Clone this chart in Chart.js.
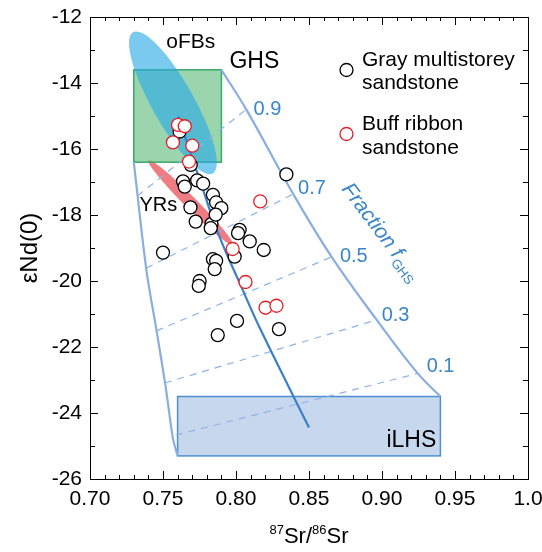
<!DOCTYPE html>
<html><head><meta charset="utf-8">
<script src="https://cdn.jsdelivr.net/npm/chart.js@4/dist/chart.umd.min.js"></script>
<style>html,body{margin:0;padding:0;background:#fff}</style>
</head><body>
<canvas id="c" width="542" height="552"></canvas>
<script>
// ---------- data ----------
const grayX = [0.7614,0.7690,0.8345,0.7637,0.7649,0.7734,0.7775,0.7842,0.7864,0.7900,0.7688,0.7724,0.7832,0.7827,0.7861,0.8025,0.8014,0.8094,0.8190,0.7500,0.7991,0.7842,0.7864,0.7854,0.7751,0.7745,0.8007,0.8294,0.7875];
const grayY = [-15.47,-16.48,-16.77,-16.98,-17.14,-16.95,-17.05,-17.39,-17.62,-17.79,-17.77,-18.20,-18.27,-18.40,-17.99,-18.45,-18.55,-18.80,-19.06,-19.14,-19.26,-19.34,-19.39,-19.64,-20.00,-20.15,-21.21,-21.46,-21.64];
const buffX = [0.7603,0.7649,0.7568,0.7701,0.7678,0.8166,0.7977,0.8065,0.8202,0.8277];
const buffY = [-15.27,-15.31,-15.80,-15.90,-16.38,-17.59,-19.03,-20.03,-20.81,-20.75];

const leftEnvX = [0.730,0.7386,0.7455,0.7518,0.7568,0.760];
const leftEnvY = [-16.4,-19.66,-21.48,-23.2,-24.77,-25.3];
const rightEnvX = [0.790,0.807,0.839,0.8655,0.8964,0.9245,0.940];
const rightEnvY = [-13.6,-14.8,-17.35,-19.27,-21.18,-22.80,-23.5];
const mixX = [0.7603,0.7751,0.7882,0.8046,0.8169,0.8500];
const mixY = [-15.01,-16.93,-18.60,-20.27,-21.48,-24.44];

const fractionLabels = ['0.9','0.7','0.5','0.3','0.1'];
const fracStartX = [0.7325,0.7386,0.7455,0.7512,0.7587];
const fracStartY = [-17.42,-19.61,-21.51,-23.09,-24.67];
const fracEndX = [0.807,0.840,0.8655,0.8964,0.9245];
const fracEndY = [-14.8,-17.35,-19.27,-21.18,-22.80];
const fracLabelX = [0.8215,0.852,0.8807,0.9093,0.9401];
const fracLabelY = [-14.81,-17.21,-19.26,-21.03,-22.59];

const ghsBoxX = [0.73,0.79], ghsBoxY = [-16.4,-13.6];
const ilhsBoxX = [0.76,0.94], ilhsBoxY = [-25.3,-23.5];
const ofbsCenter = [0.7568,-14.60], ofbsTip = [0.7841,-16.74];
const yrsCenter = [0.7688,-17.62], yrsTip = [0.7977,-18.90];

const areaLabels = ['oFBs','GHS','YRs','iLHS'];
const areaLabelX = [0.769,0.8126,0.7468,0.9201];
const areaLabelY = [-12.76,-13.35,-17.72,-24.85];
const areaLabelSize = [21,23,20,23];

const xMin = 0.70, xMax = 1.0, xStep = 0.05;
const yMin = -26, yMax = -12, yStep = 2;
const legendLabels = [['Gray multistorey','sandstone'],['Buff ribbon','sandstone']];

// ---------- helpers ----------
const FONT = '"Liberation Sans", Arial, Helvetica, sans-serif';
const BLUE_TXT = '#3b86c9';
const pts = (xs, ys) => xs.map((x,i)=>({x, y: ys[i]}));

const fracDatasets = fractionLabels.map((l,i)=>({
  type:'line', label:'f='+l,
  data:[{x:fracStartX[i],y:fracStartY[i]},{x:fracEndX[i],y:fracEndY[i]}],
  borderColor:'#8fb3e6', borderWidth:1.2, borderDash:[7,6], pointRadius:0, showLine:true, fill:false, order:5
}));

function drawEllipse(ctx,xs,ys,center,tip,ratio,color){
  const cx=xs.getPixelForValue(center[0]), cy=ys.getPixelForValue(center[1]);
  const tx=xs.getPixelForValue(tip[0]), ty=ys.getPixelForValue(tip[1]);
  const r=Math.hypot(tx-cx,ty-cy), ang=Math.atan2(ty-cy,tx-cx);
  ctx.beginPath(); ctx.ellipse(cx,cy,r,r*ratio,ang,0,2*Math.PI); ctx.fillStyle=color; ctx.fill();
}

const bgPlugin = {
  id:'bg',
  beforeDatasetsDraw(chart){
    const {ctx, chartArea:a, scales:{x,y}} = chart;
    ctx.save();
    ctx.beginPath(); ctx.rect(a.left,a.top,a.right-a.left,a.bottom-a.top); ctx.clip();
    let x0=x.getPixelForValue(ilhsBoxX[0]), x1=x.getPixelForValue(ilhsBoxX[1]);
    let y0=y.getPixelForValue(ilhsBoxY[1]), y1=y.getPixelForValue(ilhsBoxY[0]);
    ctx.fillStyle='#c6d7ee'; ctx.fillRect(x0,y0,x1-x0,y1-y0);
    ctx.strokeStyle='#4d90d2'; ctx.lineWidth=1.5; ctx.strokeRect(x0,y0,x1-x0,y1-y0);
    drawEllipse(ctx,x,y,yrsCenter,yrsTip,0.1,'#ee7c82');
    x0=x.getPixelForValue(ghsBoxX[0]); x1=x.getPixelForValue(ghsBoxX[1]);
    y0=y.getPixelForValue(ghsBoxY[1]); y1=y.getPixelForValue(ghsBoxY[0]);
    ctx.fillStyle='rgba(100,190,130,0.65)'; ctx.fillRect(x0,y0,x1-x0,y1-y0);
    ctx.strokeStyle='#3aa86a'; ctx.lineWidth=1.5; ctx.strokeRect(x0,y0,x1-x0,y1-y0);
    drawEllipse(ctx,x,y,ofbsCenter,ofbsTip,0.26,'rgba(40,170,230,0.62)');
    ctx.restore();
  },
  afterDraw(chart){
    const {ctx, chartArea:a, scales:{x,y}} = chart;
    ctx.save();
    ctx.strokeStyle='#000'; ctx.lineWidth=1;
    ctx.strokeRect(Math.round(a.left)+0.5, Math.round(a.top)+0.5, Math.round(a.right-a.left), Math.round(a.bottom-a.top));
    ctx.beginPath();
    for(let i=0;i<=30;i++){
      const v = xMin + i*0.01; const px = Math.round(x.getPixelForValue(v))+0.5;
      const L = (i%5===0)?8:4;
      ctx.moveTo(px,a.bottom); ctx.lineTo(px,a.bottom-L);
      ctx.moveTo(px,a.top); ctx.lineTo(px,a.top+L);
    }
    for(let i=0;i<=14;i++){
      const v = yMin + i; const py = Math.round(y.getPixelForValue(v))+0.5;
      const L = (i%2===0)?8:5;
      ctx.moveTo(a.left,py); ctx.lineTo(a.left+L,py);
      ctx.moveTo(a.right,py); ctx.lineTo(a.right-L,py);
    }
    ctx.stroke();
    ctx.fillStyle='#000'; ctx.textAlign='center'; ctx.textBaseline='middle';
    areaLabels.forEach((t,i)=>{
      ctx.font = areaLabelSize[i]+'px '+FONT;
      ctx.fillText(t, x.getPixelForValue(areaLabelX[i]), y.getPixelForValue(areaLabelY[i]));
    });
    ctx.fillStyle=BLUE_TXT; ctx.font='20px '+FONT;
    fractionLabels.forEach((t,i)=>{
      ctx.fillText(t, x.getPixelForValue(fracLabelX[i]), y.getPixelForValue(fracLabelY[i]));
    });
    ctx.save();
    ctx.translate(x.getPixelForValue(0.872), y.getPixelForValue(-17.22));
    ctx.rotate(53*Math.PI/180);
    ctx.textAlign='left'; ctx.textBaseline='alphabetic';
    ctx.font='italic 21px '+FONT;
    ctx.fillText('Fraction f', 0, 0);
    const w = ctx.measureText('Fraction f').width;
    ctx.font='13px '+FONT;
    ctx.fillText('GHS', w+1, 5);
    ctx.restore();
    const lg = [{c:'#000',cy:70,b:[66,89]},{c:'#e31e24',cy:134,b:[130,154]}];
    lg.forEach((e,i)=>{
      ctx.beginPath(); ctx.arc(346.5,e.cy,6.5,0,2*Math.PI);
      ctx.fillStyle='#fff'; ctx.fill(); ctx.strokeStyle=e.c; ctx.lineWidth=1.3; ctx.stroke();
      ctx.fillStyle='#000'; ctx.font='21px '+FONT; ctx.textAlign='left'; ctx.textBaseline='alphabetic';
      ctx.fillText(legendLabels[i][0], 362, e.b[0]);
      ctx.fillText(legendLabels[i][1], 362, e.b[1]);
    });
    ctx.fillStyle='#000'; ctx.textBaseline='alphabetic'; ctx.textAlign='left';
    const parts=[['87',13,-9],['Sr/',22,0],['86',13,-9],['Sr',22,0]];
    let tw=0; parts.forEach(p=>{ctx.font=p[1]+'px '+FONT; tw+=ctx.measureText(p[0]).width;});
    let cx = (a.left+a.right)/2 - tw/2;
    parts.forEach(p=>{ctx.font=p[1]+'px '+FONT; ctx.fillText(p[0],cx,543+p[2]); cx+=ctx.measureText(p[0]).width;});
    ctx.save(); ctx.translate(30,(a.top+a.bottom)/2); ctx.rotate(-Math.PI/2);
    ctx.textAlign='center'; ctx.textBaseline='middle'; ctx.font='24px '+FONT;
    ctx.fillText('\u03B5Nd(0)',0,0);
    ctx.restore();
    ctx.restore();
  }
};

new Chart(document.getElementById('c'), {
  type:'scatter',
  data:{datasets:[
    {label:'Buff ribbon sandstone', data:pts(buffX,buffY), pointRadius:6.5, pointBackgroundColor:'#fff', pointBorderColor:'#e31e24', pointBorderWidth:1.3, order:0},
    {label:'Gray multistorey sandstone', data:pts(grayX,grayY), pointRadius:6.5, pointBackgroundColor:'#fff', pointBorderColor:'#000', pointBorderWidth:1.3, order:1},
    {type:'line', label:'mixing', data:pts(mixX,mixY), borderColor:'#3a80c8', borderWidth:2.2, pointRadius:0, tension:0.4, fill:false, order:2},
    {type:'line', label:'left', data:pts(leftEnvX,leftEnvY), borderColor:'#8aaee0', borderWidth:2.2, pointRadius:0, tension:0.3, fill:false, order:3},
    {type:'line', label:'right', data:pts(rightEnvX,rightEnvY), borderColor:'#8aaee0', borderWidth:2.2, pointRadius:0, tension:0.4, fill:false, order:3},
    ...fracDatasets
  ]},
  options:{
    responsive:false, animation:false, events:[],
    layout:{padding:{top:17,right:14,left:0,bottom:0}},
    plugins:{legend:{display:false}, tooltip:{enabled:false}},
    scales:{
      x:{type:'linear', min:xMin, max:xMax,
        grid:{display:false}, border:{display:false},
        ticks:{stepSize:xStep, padding:0, color:'#000', font:{family:FONT,size:21},
          callback:(v)=> Math.abs(v-1)<1e-9 ? '1.0' : Number(v).toFixed(2), maxRotation:0, autoSkip:false},
        afterFit:(s)=>{s.height=73; s.paddingLeft=0; s.paddingRight=0;}
      },
      y:{type:'linear', min:yMin, max:yMax,
        grid:{display:false}, border:{display:false},
        ticks:{stepSize:yStep, padding:0, color:'#000', font:{family:FONT,size:21}, autoSkip:false},
        afterFit:(s)=>{s.width=90; s.paddingTop=0; s.paddingBottom=0;}
      }
    }
  },
  plugins:[bgPlugin]
});
</script>
</body></html>
